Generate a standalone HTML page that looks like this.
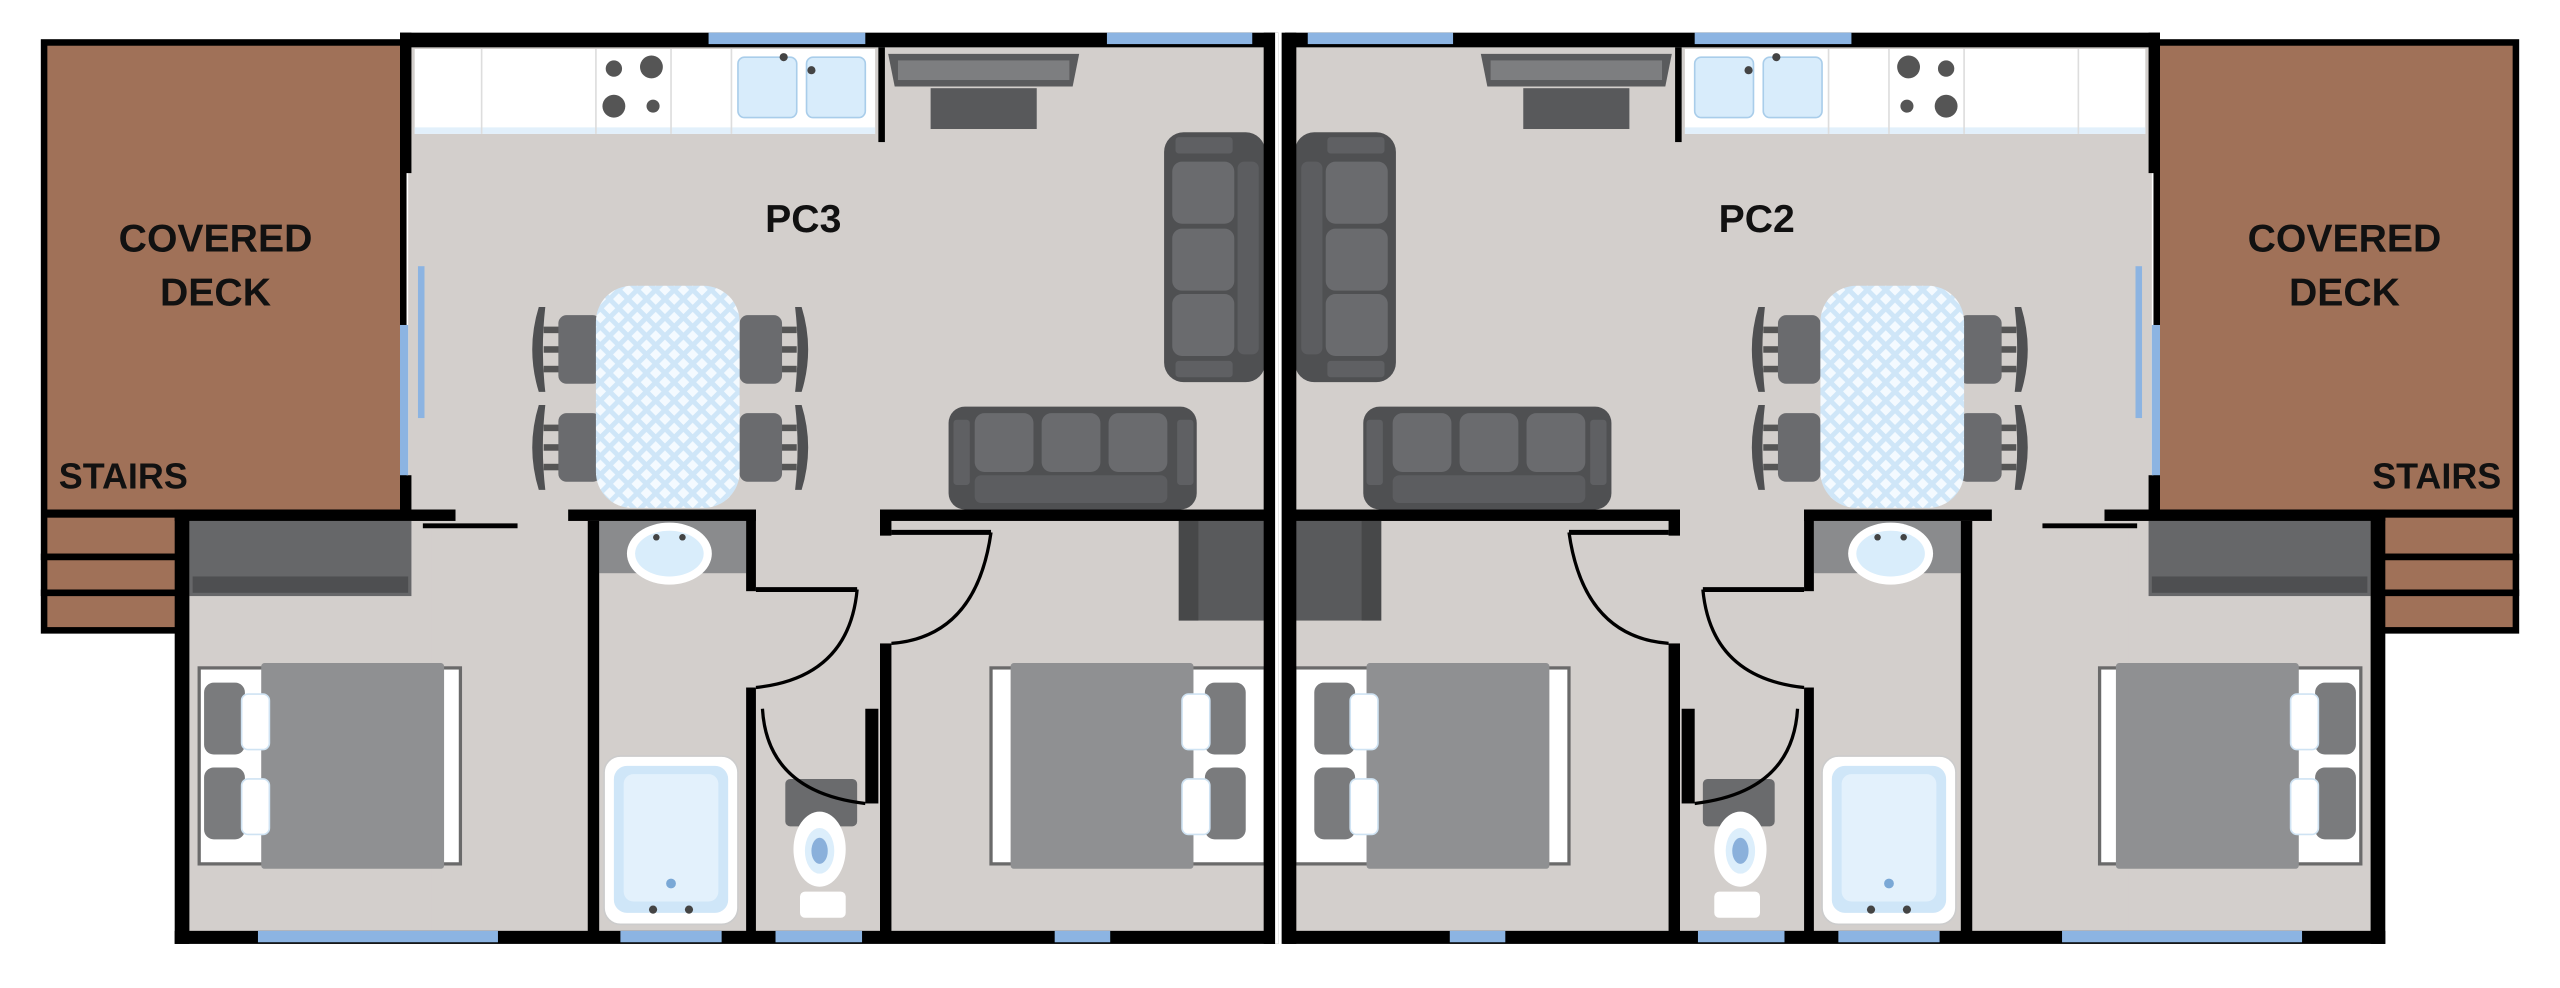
<!DOCTYPE html>
<html><head><meta charset="utf-8"><style>
html,body{margin:0;padding:0;background:#fff;}
svg{display:block}
text{font-family:"Liberation Sans",sans-serif;font-weight:bold;fill:#111}
</style></head><body>
<svg width="2560" height="988" viewBox="0 0 1568 605" preserveAspectRatio="none" xmlns="http://www.w3.org/2000/svg">
<defs>
<pattern id="chk" width="8" height="8" patternUnits="userSpaceOnUse" patternTransform="rotate(45)">
<rect width="8" height="8" fill="#f4faff"/>
<rect width="3" height="8" fill="#cfe6f8"/>
<rect width="8" height="3" fill="#cfe6f8"/>
</pattern>
<g id="chair">
<path d="M0,0 Q-8,26 0,52 L4,52 Q1,26 4,0Z" fill="#4f5052"/>
<rect x="3" y="12" width="10" height="4" fill="#555"/>
<rect x="3" y="24" width="10" height="4" fill="#555"/>
<rect x="3" y="36" width="10" height="4" fill="#555"/>
<rect x="12" y="5" width="26" height="42" rx="5" fill="#6a6b6e"/>
</g>
<g id="unit">
<rect x="25" y="24" width="224" height="364" fill="#000"/>
<rect x="29" y="28" width="216" height="284" fill="#a07158"/>
<rect x="29" y="317" width="79" height="22" fill="#a07158"/>
<rect x="29" y="343" width="79" height="18" fill="#a07158"/>
<rect x="29" y="365" width="79" height="19" fill="#a07158"/>
<rect x="250" y="29" width="527" height="542" fill="#d3cfcc"/>
<rect x="114" y="317" width="150" height="254" fill="#d3cfcc"/>
<rect x="254" y="30" width="282" height="52" fill="#fff"/>
<rect x="254" y="78" width="282" height="4" fill="#e2f0fb"/>
<line x1="295" y1="30" x2="295" y2="82" stroke="#ddd"/>
<line x1="365" y1="30" x2="365" y2="82" stroke="#ddd"/>
<line x1="411" y1="30" x2="411" y2="82" stroke="#ddd"/>
<line x1="448" y1="30" x2="448" y2="82" stroke="#ddd"/>
<circle cx="376" cy="42" r="5" fill="#555"/><circle cx="399" cy="41" r="7" fill="#555"/>
<circle cx="376" cy="65" r="7" fill="#555"/><circle cx="400" cy="65" r="4" fill="#555"/>
<rect x="452" y="35" width="36" height="37" rx="4" fill="#d8ecfb" stroke="#a9cdea"/>
<rect x="494" y="35" width="36" height="37" rx="4" fill="#d8ecfb" stroke="#a9cdea"/>
<circle cx="480" cy="35" r="2.5" fill="#444"/><circle cx="497" cy="43" r="2.5" fill="#444"/>
<path d="M544,33 L661,33 L657,53 L548,53Z" fill="#5a5b5d"/>
<rect x="550" y="37" width="105" height="12" fill="#7d7e80"/>
<rect x="570" y="54" width="65" height="25" fill="#58595b"/>
<rect x="713" y="81" width="62" height="153" rx="12" fill="#4f5052"/>
<rect x="720" y="84" width="35" height="10" rx="2" fill="#5f6063"/>
<rect x="720" y="221" width="35" height="10" rx="2" fill="#5f6063"/>
<rect x="718" y="99" width="38" height="38" rx="6" fill="#6a6b6e"/>
<rect x="718" y="140" width="38" height="38" rx="6" fill="#6a6b6e"/>
<rect x="718" y="180" width="38" height="38" rx="6" fill="#6a6b6e"/>
<rect x="758" y="99" width="13" height="118" rx="4" fill="#5c5d60"/>
<rect x="581" y="249" width="152" height="63" rx="10" fill="#4f5052"/>
<rect x="584" y="257" width="10" height="40" rx="2" fill="#5f6063"/>
<rect x="721" y="257" width="10" height="40" rx="2" fill="#5f6063"/>
<rect x="597" y="253" width="36" height="36" rx="6" fill="#6a6b6e"/>
<rect x="638" y="253" width="36" height="36" rx="6" fill="#6a6b6e"/>
<rect x="679" y="253" width="36" height="36" rx="6" fill="#6a6b6e"/>
<rect x="597" y="291" width="118" height="17" rx="4" fill="#5c5d60"/>
<use href="#chair" x="330" y="188"/>
<use href="#chair" x="330" y="248"/>
<use href="#chair" transform="translate(491,188) scale(-1,1)"/>
<use href="#chair" transform="translate(491,248) scale(-1,1)"/>
<rect x="365" y="175" width="88" height="136" rx="22" fill="url(#chk)"/>
<rect x="116" y="319" width="136" height="46" fill="#666769"/>
<rect x="118" y="353" width="132" height="10" fill="#4e4f51"/>
<rect x="122" y="409" width="160" height="120" fill="#fff" stroke="#6a6a6a" stroke-width="2"/>
<rect x="160" y="406" width="112" height="126" rx="2" fill="#8f9092"/>
<rect x="125" y="418" width="25" height="44" rx="6" fill="#7a7b7d"/>
<rect x="125" y="470" width="25" height="44" rx="6" fill="#7a7b7d"/>
<rect x="148" y="425" width="17" height="34" rx="4" fill="#fff" stroke="#cfe3f3"/>
<rect x="148" y="477" width="17" height="34" rx="4" fill="#fff" stroke="#cfe3f3"/>
<rect x="607" y="409" width="168" height="120" fill="#fff" stroke="#6a6a6a" stroke-width="2"/>
<rect x="619" y="406" width="112" height="126" rx="2" fill="#8f9092"/>
<rect x="738" y="418" width="25" height="44" rx="6" fill="#7a7b7d"/>
<rect x="738" y="470" width="25" height="44" rx="6" fill="#7a7b7d"/>
<rect x="724" y="425" width="17" height="34" rx="4" fill="#fff" stroke="#cfe3f3"/>
<rect x="724" y="477" width="17" height="34" rx="4" fill="#fff" stroke="#cfe3f3"/>
<rect x="722" y="319" width="53" height="61" fill="#595a5c"/>
<rect x="722" y="319" width="12" height="61" fill="#474849"/>
<rect x="367" y="319" width="90" height="32" fill="#8a8b8d"/>
<ellipse cx="410" cy="339" rx="26" ry="19" fill="#fff"/>
<ellipse cx="410" cy="339" rx="21" ry="14" fill="#d9edfb"/>
<circle cx="402" cy="329" r="2" fill="#444"/><circle cx="418" cy="329" r="2" fill="#444"/>
<rect x="370" y="463" width="82" height="103" rx="10" fill="#fff" stroke="#ccc"/>
<rect x="376" y="469" width="70" height="90" rx="8" fill="#cfe6f8"/>
<rect x="382" y="474" width="58" height="78" rx="6" fill="#e3f1fc"/>
<circle cx="411" cy="541" r="3" fill="#7aa8d6"/>
<circle cx="400" cy="557" r="2.5" fill="#444"/><circle cx="422" cy="557" r="2.5" fill="#444"/>
<rect x="481" y="477" width="44" height="29" rx="3" fill="#6a6b6d"/>
<ellipse cx="502" cy="520" rx="16" ry="23" fill="#fff"/>
<ellipse cx="502" cy="521" rx="9" ry="14" fill="#dceefb"/>
<ellipse cx="502" cy="521" rx="5" ry="8" fill="#8ab0db"/>
<rect x="490" y="546" width="28" height="16" rx="3" fill="#fff"/>
<g fill="#000">
<rect x="245" y="20" width="536" height="9"/>
<rect x="245" y="20" width="7" height="86"/>
<rect x="245" y="291" width="7" height="24"/>
<rect x="107" y="312" width="172" height="7"/>
<rect x="348" y="312" width="115" height="7"/>
<rect x="539" y="312" width="242" height="7"/>
<rect x="107" y="312" width="9" height="266"/>
<rect x="107" y="570" width="675" height="8"/>
<rect x="538" y="29" width="4" height="58"/>
<rect x="360" y="319" width="7" height="252"/>
<rect x="457" y="312" width="6" height="50"/>
<rect x="457" y="421" width="6" height="150"/>
<rect x="539" y="394" width="7" height="177"/>
<rect x="539" y="312" width="7" height="16"/>
<rect x="530" y="434" width="8" height="58"/>
<rect x="774" y="20" width="9" height="558"/>
<rect x="25" y="339" width="83" height="4"/>
<rect x="25" y="361" width="83" height="4"/>
</g>
<line x1="259" y1="322" x2="317" y2="322" stroke="#000" stroke-width="3"/>
<line x1="463" y1="361" x2="525" y2="361" stroke="#000" stroke-width="3"/>
<path d="M525,361 Q520,415 463,421" fill="none" stroke="#000" stroke-width="2"/>
<line x1="546" y1="326" x2="607" y2="326" stroke="#000" stroke-width="3"/>
<path d="M607,326 Q598,390 546,394" fill="none" stroke="#000" stroke-width="2"/>
<path d="M467,434 Q470,485 530,492" fill="none" stroke="#000" stroke-width="2"/>
<g fill="#8cb4e2">
<rect x="434" y="20" width="96" height="7"/>
<rect x="678" y="20" width="89" height="7"/>
<rect x="245" y="199" width="5" height="92"/>
<rect x="256" y="163" width="4" height="93"/>
<rect x="158" y="570" width="147" height="7"/>
<rect x="380" y="570" width="62" height="7"/>
<rect x="475" y="570" width="53" height="7"/>
<rect x="646" y="570" width="34" height="7"/>
</g>
</g>
</defs>
<rect width="1568" height="605" fill="#fff"/>
<use href="#unit"/>
<use href="#unit" transform="translate(1568,0) scale(-1,1)"/>
<rect x="781" y="20" width="2" height="558" fill="#fff"/>
<text x="492" y="142" font-size="24" text-anchor="middle">PC3</text>
<text x="1076" y="142" font-size="24" text-anchor="middle">PC2</text>
<text x="132" y="154" font-size="24" text-anchor="middle">COVERED</text>
<text x="132" y="187" font-size="24" text-anchor="middle">DECK</text>
<text x="1436" y="154" font-size="24" text-anchor="middle">COVERED</text>
<text x="1436" y="187" font-size="24" text-anchor="middle">DECK</text>
<text x="36" y="299" font-size="22">STAIRS</text>
<text x="1532" y="299" font-size="22" text-anchor="end">STAIRS</text>
</svg>
</body></html>
